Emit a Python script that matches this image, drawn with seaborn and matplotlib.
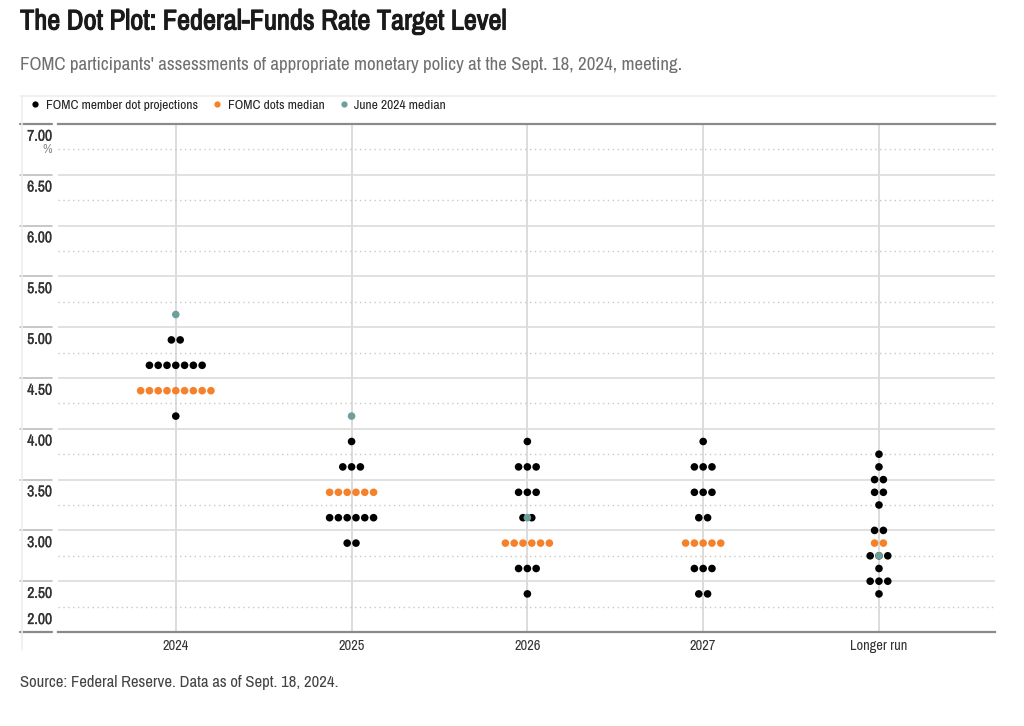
import matplotlib
matplotlib.use('Agg')
import matplotlib.pyplot as plt
import matplotlib.transforms as mtransforms
import matplotlib.patheffects as pe
from matplotlib.lines import Line2D
from matplotlib import font_manager
import numpy as np
import pandas as pd
import seaborn as sns

# columns of the dot plot
years = ['2024', '2025', '2026', '2027', 'Longer run']

# FOMC member dots (not at the median), level -> count per column
levels_2024 = [4.875, 4.625, 4.125]
counts_2024 = [2, 7, 1]
levels_2025 = [3.875, 3.625, 3.125, 2.875]
counts_2025 = [1, 3, 6, 2]
levels_2026 = [3.875, 3.625, 3.375, 3.125, 2.625, 2.375]
counts_2026 = [1, 3, 3, 2, 3, 1]
levels_2027 = [3.875, 3.625, 3.375, 3.125, 2.625, 2.375]
counts_2027 = [1, 3, 3, 2, 3, 2]
levels_lr = [3.75, 3.625, 3.5, 3.375, 3.25, 3.0, 2.75, 2.625, 2.5, 2.375]
counts_lr = [1, 1, 2, 2, 1, 2, 3, 1, 3, 1]

# September median level and number of dots sitting on it
median_sept = [4.375, 3.375, 2.875, 2.875, 2.875]
median_sept_n = [9, 6, 6, 5, 2]

# June 2024 median (no 2027 projection in June)
median_june = [5.125, 4.125, 3.125, None, 2.75]

BLACK = '#000000'
ORANGE = '#f5822a'
TEAL = '#6f9f9d'
step = 0.05  # horizontal spacing of dots in a row

rows = []
all_levels = [levels_2024, levels_2025, levels_2026, levels_2027, levels_lr]
all_counts = [counts_2024, counts_2025, counts_2026, counts_2027, counts_lr]
for i in range(len(years)):
    for lev, n in zip(all_levels[i], all_counts[i]):
        for k in range(n):
            rows.append((i + step * (k - (n - 1) / 2), lev, 'dots'))
    n = median_sept_n[i]
    for k in range(n):
        rows.append((i + step * (k - (n - 1) / 2), median_sept[i], 'median'))
for i, v in enumerate(median_june):
    if v is not None:
        rows.append((i, v, 'june'))
df = pd.DataFrame(rows, columns=['x', 'rate', 'kind'])

sns.set_theme(style='white')
names = sorted({f.name for f in font_manager.fontManager.ttflist})
cond = [n for n in names if 'Narrow' in n or 'Condensed' in n]
plt.rcParams['font.family'] = cond[:1] + ['DejaVu Sans']
plt.rcParams['font.stretch'] = 'condensed'

fig = plt.figure(figsize=(10.24, 7.26), dpi=100)
ax = fig.add_axes([58 / 1024, 1 - 632 / 726, 937 / 1024, 508 / 726])

sns.scatterplot(data=df, x='x', y='rate', hue='kind',
                palette={'dots': BLACK, 'median': ORANGE, 'june': TEAL},
                s=30, edgecolor='none', linewidth=0, legend=False, ax=ax, zorder=3)

ax.set_xlim(-0.67, 4.66)
ax.set_ylim(2.0, 7.0)
ax.set_xlabel('')
ax.set_ylabel('')

major = np.arange(2.0, 7.01, 0.5)
ax.set_yticks(major)
ax.set_yticks(np.arange(2.25, 7.0, 0.5), minor=True)
ax.set_yticklabels([])
ax.tick_params(axis='y', which='both', length=0)
ax.yaxis.grid(True, which='major', color='#dcdcdc', lw=1.2)
ax.yaxis.grid(True, which='minor', color='#c8c8c8', ls=(0, (1, 2.5)), lw=1)

ax.set_xticks(range(len(years)))
ax.set_xticklabels(years)
ax.tick_params(axis='x', length=0, pad=5, labelsize=10.4, colors='#333333')
ax.xaxis.grid(True, color='#d6d6d6', lw=1.2)
ax.set_axisbelow(True)

for side in ['left', 'right']:
    ax.spines[side].set_visible(False)
for side in ['top', 'bottom']:
    ax.spines[side].set_color('#8a8a8a')
    ax.spines[side].set_linewidth(1.6)

# y labels sit under their gridline, with a short rule on the left
trans = mtransforms.blended_transform_factory(ax.transAxes, ax.transData)
for v in major:
    edge = v in (2.0, 7.0)
    ax.plot([-0.0406, -0.0064], [v, v], transform=trans, clip_on=False,
            color='#8a8a8a' if edge else '#bdbdbd', lw=1.6 if edge else 1.2)
    ty = v + 0.118 if v == 2.0 else v - 0.125
    ax.text(-0.0064, ty, f'{v:.2f}', transform=trans, ha='right', va='center',
            fontsize=11.2, color='#333333',
            path_effects=[pe.withStroke(linewidth=0.2, foreground='#333333')])
ax.text(-0.0064, 6.75, '%', transform=trans, ha='right', va='center',
        fontsize=9.5, color='#888888')

# faint frame around the chart block
fig.add_artist(Line2D([20 / 1024, 996 / 1024], [1 - 96 / 726, 1 - 96 / 726],
                      color='#eeeeee', lw=1.2))
fig.add_artist(Line2D([22 / 1024, 22 / 1024], [1 - 96 / 726, 1 - 650 / 726],
                      color='#eeeeee', lw=1.2))

handles = [Line2D([], [], ls='', marker='o', markersize=4.5, color=c, markeredgewidth=0)
           for c in [BLACK, ORANGE, TEAL]]
fig.legend(handles, ['FOMC member dot projections', 'FOMC dots median', 'June 2024 median'],
           loc='center left', bbox_to_anchor=(30 / 1024, 1 - 105 / 726), ncol=3,
           frameon=False, handlelength=0.8, handletextpad=0.4, columnspacing=1.0,
           borderpad=0, borderaxespad=0, fontsize=9.7, labelcolor='#222222')

fig.text(20 / 1024, 1 - 22 / 726, 'The Dot Plot: Federal-Funds Rate Target Level',
         fontsize=20.5, fontweight='bold', color='#1a1a1a', va='center', ha='left',
         path_effects=[pe.withStroke(linewidth=0.8, foreground='#1a1a1a')])
fig.text(20 / 1024, 1 - 65 / 726,
         "FOMC participants' assessments of appropriate monetary policy at the Sept. 18, 2024, meeting.",
         fontsize=13.7, color='#707070', va='center', ha='left')
fig.text(20 / 1024, 1 - 683 / 726, 'Source: Federal Reserve. Data as of Sept. 18, 2024.',
         fontsize=12, color='#444444', va='center', ha='left')

plt.savefig('out.png', dpi=100)
plt.close()
